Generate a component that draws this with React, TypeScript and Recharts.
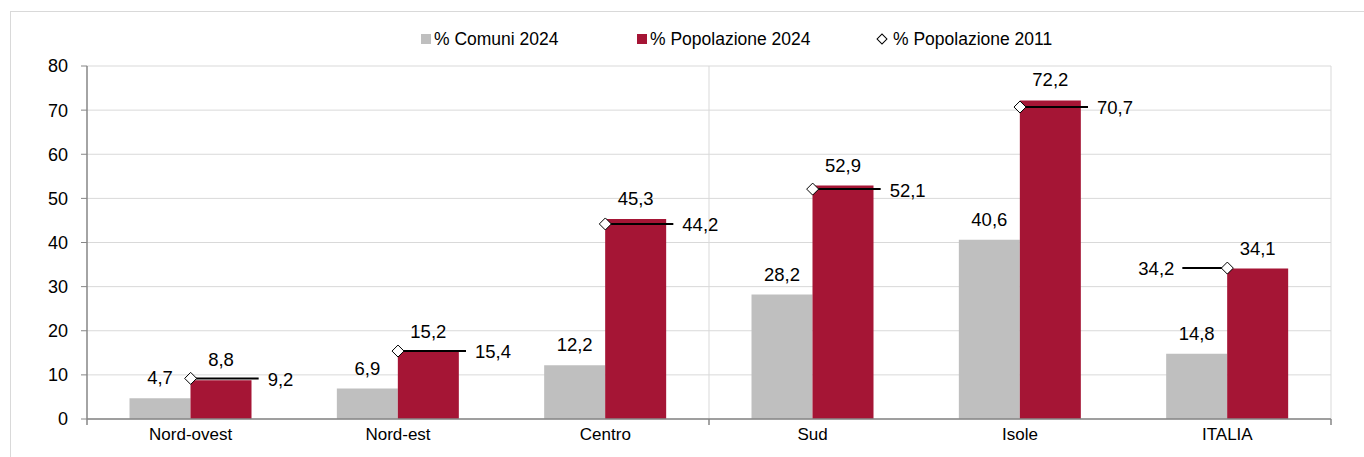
import React from 'react';
import { ComposedChart, Bar, Scatter, XAxis, YAxis, CartesianGrid, LabelList } from 'recharts';

const categories = ['Nord-ovest', 'Nord-est', 'Centro', 'Sud', 'Isole', 'ITALIA'];
const comuni2024 = [4.7, 6.9, 12.2, 28.2, 40.6, 14.8];
const popolazione2024 = [8.8, 15.2, 45.3, 52.9, 72.2, 34.1];
const popolazione2011 = [9.2, 15.4, 44.2, 52.1, 70.7, 34.2];
const yTicks = [0, 10, 20, 30, 40, 50, 60, 70, 80];

const data = categories.map((name, i) => ({
  name,
  comuni: comuni2024[i],
  pop2024: popolazione2024[i],
  pop2011: popolazione2011[i],
}));

const FONT = "'Liberation Sans', Arial, sans-serif";
const FS = 17; // category names
const NUM_FS = 18.5; // numbers (data labels, y ticks)
const GRAY = '#bfbfbf';
const RED = '#a51535';
const GRID = '#d9d9d9';
const AXIS = '#868686';

const fmt = (v: any) => Number(v).toFixed(1).replace('.', ',');

// diamond for 2011 plus its leader line and label
const DiamondLeader = (props: any) => {
  const { cx, cy, payload } = props;
  if (cx == null || cy == null) return null;
  const idx = categories.indexOf(payload.name);
  const toLeft = idx === categories.length - 1;
  const x2 = toLeft ? cx - 45 : cx + 68;
  const r = 6;
  return (
    <g>
      <line x1={cx} y1={cy} x2={x2} y2={cy} stroke="#000" strokeWidth={2} />
      <path
        d={`M${cx - r},${cy} L${cx},${cy - r} L${cx + r},${cy} L${cx},${cy + r} Z`}
        fill="#fff"
        stroke="#000"
        strokeWidth={1}
      />
      <text
        x={toLeft ? x2 - 8 : x2 + 9}
        y={cy}
        dy="0.4em"
        textAnchor={toLeft ? 'end' : 'start'}
        fontSize={NUM_FS}
        fontFamily={FONT}
        fill="#000"
      >
        {fmt(payload.pop2011)}
      </text>
    </g>
  );
};

// category label + the few separator ticks under the axis (left edge, after Centro, right edge)
const XTick = (props: any) => {
  const { x, y, payload, index, width } = props;
  const band = width / categories.length;
  const axisY = y - 8;
  let sepX: number | null = null;
  if (index === 0) sepX = x - band / 2;
  if (index === 2 || index === categories.length - 1) sepX = x + band / 2;
  return (
    <g>
      {sepX != null && <line x1={sepX} y1={axisY} x2={sepX} y2={axisY + 6} stroke={AXIS} strokeWidth={1.5} />}
      <text x={x} y={y} dy="0.75em" textAnchor="middle" fontSize={FS} fontFamily={FONT} fill="#000">
        {payload.value}
      </text>
    </g>
  );
};

function LegendRow() {
  const text: React.CSSProperties = { fontFamily: FONT, fontSize: 17.5, color: '#000', lineHeight: '20px', whiteSpace: 'nowrap' };
  const item = (left: number): React.CSSProperties => ({ position: 'absolute', left, top: 29, display: 'flex', alignItems: 'center' });
  return (
    <>
      <div style={item(421)}>
        <span style={{ width: 10, height: 10, background: GRAY, display: 'inline-block', marginRight: 3 }} />
        <span style={text}>% Comuni 2024</span>
      </div>
      <div style={item(637)}>
        <span style={{ width: 10, height: 10, background: RED, display: 'inline-block', marginRight: 3 }} />
        <span style={text}>% Popolazione 2024</span>
      </div>
      <div style={item(878)}>
        <span
          style={{
            width: 6,
            height: 6,
            border: '1px solid #000',
            background: '#fff',
            display: 'inline-block',
            transform: 'rotate(45deg)',
            marginRight: 7,
          }}
        />
        <span style={text}>% Popolazione 2011</span>
      </div>
    </>
  );
}

export default function App() {
  return (
    <div style={{ position: 'absolute', left: 0, top: 0, width: 1364, height: 457, overflow: 'hidden', background: '#fff' }}>
      <div style={{ position: 'absolute', left: 10, top: 11, width: 1364, height: 460, border: `1px solid ${GRID}` }} />
      <LegendRow />
      <div style={{ position: 'absolute', left: 0, top: 0 }}>
        <ComposedChart
          width={1364}
          height={457}
          data={data}
          margin={{ top: 66, right: 33, left: 0, bottom: 0 }}
          barCategoryGap="20.5%"
          barGap={0}
        >
          <CartesianGrid
            stroke={GRID}
            verticalCoordinatesGenerator={({ offset }: any) => [
              offset.left + (offset.width * 3) / categories.length,
              offset.left + offset.width,
            ]}
          />
          <XAxis
            dataKey="name"
            height={38}
            tickLine={false}
            tickSize={0}
            tickMargin={8}
            axisLine={{ stroke: AXIS, strokeWidth: 1.5 }}
            tick={XTick}
            interval={0}
          />
          <YAxis
            domain={[0, 80]}
            ticks={yTicks}
            width={87}
            tickSize={6}
            tickMargin={13}
            interval={0}
            axisLine={{ stroke: AXIS, strokeWidth: 1.5 }}
            tickLine={{ stroke: AXIS }}
            tick={{ fill: '#000', fontSize: 18, fontFamily: FONT }}
          />
          <Bar dataKey="comuni" fill={GRAY} isAnimationActive={false}>
            <LabelList dataKey="comuni" position="top" offset={14} formatter={fmt} fill="#000" fontSize={NUM_FS} fontFamily={FONT} />
          </Bar>
          <Bar dataKey="pop2024" fill={RED} isAnimationActive={false}>
            <LabelList dataKey="pop2024" position="top" offset={14} formatter={fmt} fill="#000" fontSize={NUM_FS} fontFamily={FONT} />
          </Bar>
          <Scatter dataKey="pop2011" shape={DiamondLeader} isAnimationActive={false} />
        </ComposedChart>
      </div>
    </div>
  );
}
